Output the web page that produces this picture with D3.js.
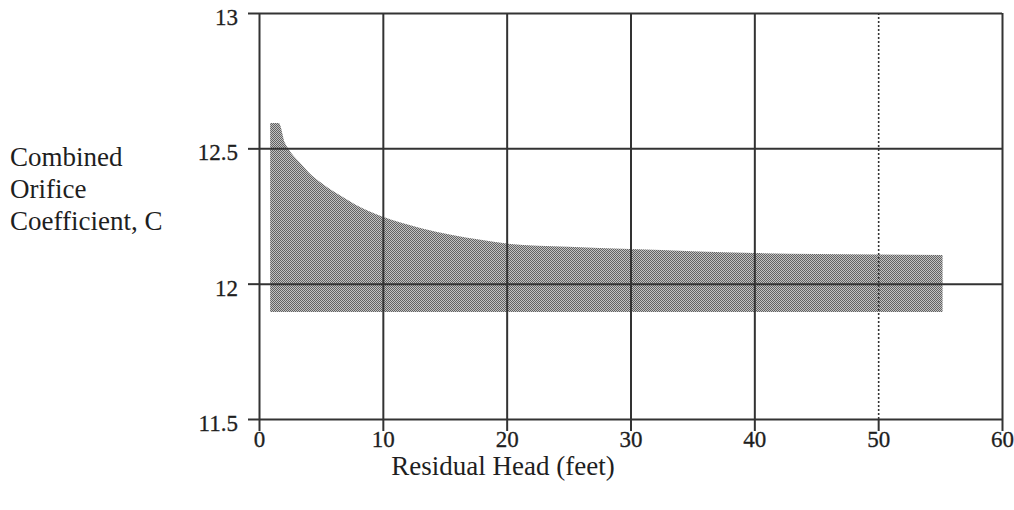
<!DOCTYPE html>
<html>
<head>
<meta charset="utf-8">
<script src="https://cdn.jsdelivr.net/npm/d3@7"></script>
<style>
  body { margin: 0; background: #fff; }
  svg { display: block; font-family: "Liberation Serif", "Times New Roman", serif; }
  .tick text { fill: #1e1e1e; font-family: "Liberation Serif", "Times New Roman", serif; font-size: 23px; stroke: #1e1e1e; stroke-width: 0.3; }
  .grid .tick line, .axis .tick line { stroke: #333; stroke-width: 2; }
</style>
</head>
<body>
<div id="chart"></div>
<script>
// data
var headFeet = [0.9, 1.6, 2.1, 2.4, 3.2, 4.0, 5.1, 6.4, 7.8, 9.9, 13.1, 17.9, 20, 25, 30, 35, 40, 45, 50, 55.2];
var upperC   = [12.594, 12.594, 12.52, 12.496, 12.452, 12.412, 12.37, 12.33, 12.292, 12.249, 12.205, 12.162, 12.148, 12.136, 12.128, 12.12, 12.113, 12.11, 12.108, 12.106];
var lowerC   = 11.895;
var xTicks = [0, 10, 20, 30, 40, 50, 60];
var yTicks = [11.5, 12, 12.5, 13];
var yLabelLines = ["Combined", "Orifice", "Coefficient, C"];
var xTitle = "Residual Head (feet)";

// setup dimensions
var W = 1014, H = 510;
var margin = {top: 13, left: 259},
    width = 743,
    height = 406;

var svg = d3.select("#chart").append("svg")
  .attr("width", W)
  .attr("height", H);

// stipple pattern for the band
var defs = svg.append("defs");
var pat = defs.append("pattern")
  .attr("id", "stipple")
  .attr("width", 2)
  .attr("height", 2)
  .attr("patternUnits", "userSpaceOnUse");
pat.append("rect").attr("width", 2).attr("height", 2).attr("fill", "#c2c2c2");
pat.append("rect").attr("width", 1).attr("height", 1).attr("fill", "#626262");
pat.append("rect").attr("x", 1).attr("y", 1).attr("width", 1).attr("height", 1).attr("fill", "#626262");

var g = svg.append("g")
  .attr("transform", "translate(" + margin.left + "," + margin.top + ")");

// scales
var x = d3.scaleLinear().domain([0, 60]).range([0, width]);
var y = d3.scaleLinear().domain([11.5, 13]).range([height, 0]);

// band
var band = headFeet.map(function(h, i) { return {x: h, top: upperC[i]}; });
var area = d3.area()
  .x(function(d) { return x(d.x); })
  .y0(function() { return y(lowerC); })
  .y1(function(d) { return y(d.top); })
  .curve(d3.curveMonotoneX);

g.append("path")
  .datum(band)
  .attr("d", area)
  .attr("fill", "url(#stipple)");

// grid lines
var xGrid = g.append("g")
  .attr("class", "grid")
  .attr("transform", "translate(0," + height + ")")
  .call(d3.axisBottom(x).tickValues(xTicks).tickSize(-height).tickFormat(""));
xGrid.select(".domain").remove();
xGrid.selectAll(".tick line")
  .filter(function(d) { return d === 50; })
  .attr("stroke-dasharray", "2,2")
  .style("stroke-width", 1.6);

var yGrid = g.append("g")
  .attr("class", "grid")
  .call(d3.axisLeft(y).tickValues(yTicks).tickSize(-width).tickFormat(""));
yGrid.select(".domain").remove();

// axes
var xAxis = g.append("g")
  .attr("class", "axis")
  .attr("transform", "translate(0," + height + ")")
  .call(d3.axisBottom(x).tickValues(xTicks).tickSize(12).tickPadding(0).tickSizeOuter(0));
xAxis.select(".domain").remove();

var yAxis = g.append("g")
  .attr("class", "axis")
  .call(d3.axisLeft(y).tickValues(yTicks).tickSize(11).tickPadding(10).tickSizeOuter(0)
    .tickFormat(function(d) { return d; }));
yAxis.select(".domain").remove();
yAxis.selectAll("text").attr("dy", "0.5em");

// axis titles
svg.append("text")
  .attr("x", 503)
  .attr("y", 475)
  .attr("text-anchor", "middle")
  .style("font-size", "27px")
  .attr("fill", "#1e1e1e")
  .text(xTitle);

svg.append("text")
  .attr("fill", "#1e1e1e")
  .style("font-size", "27px")
  .selectAll("tspan")
  .data(yLabelLines)
  .enter().append("tspan")
  .attr("x", 10)
  .attr("y", function(d, i) { return 166 + i * 32; })
  .text(function(d) { return d; });
</script>
</body>
</html>
